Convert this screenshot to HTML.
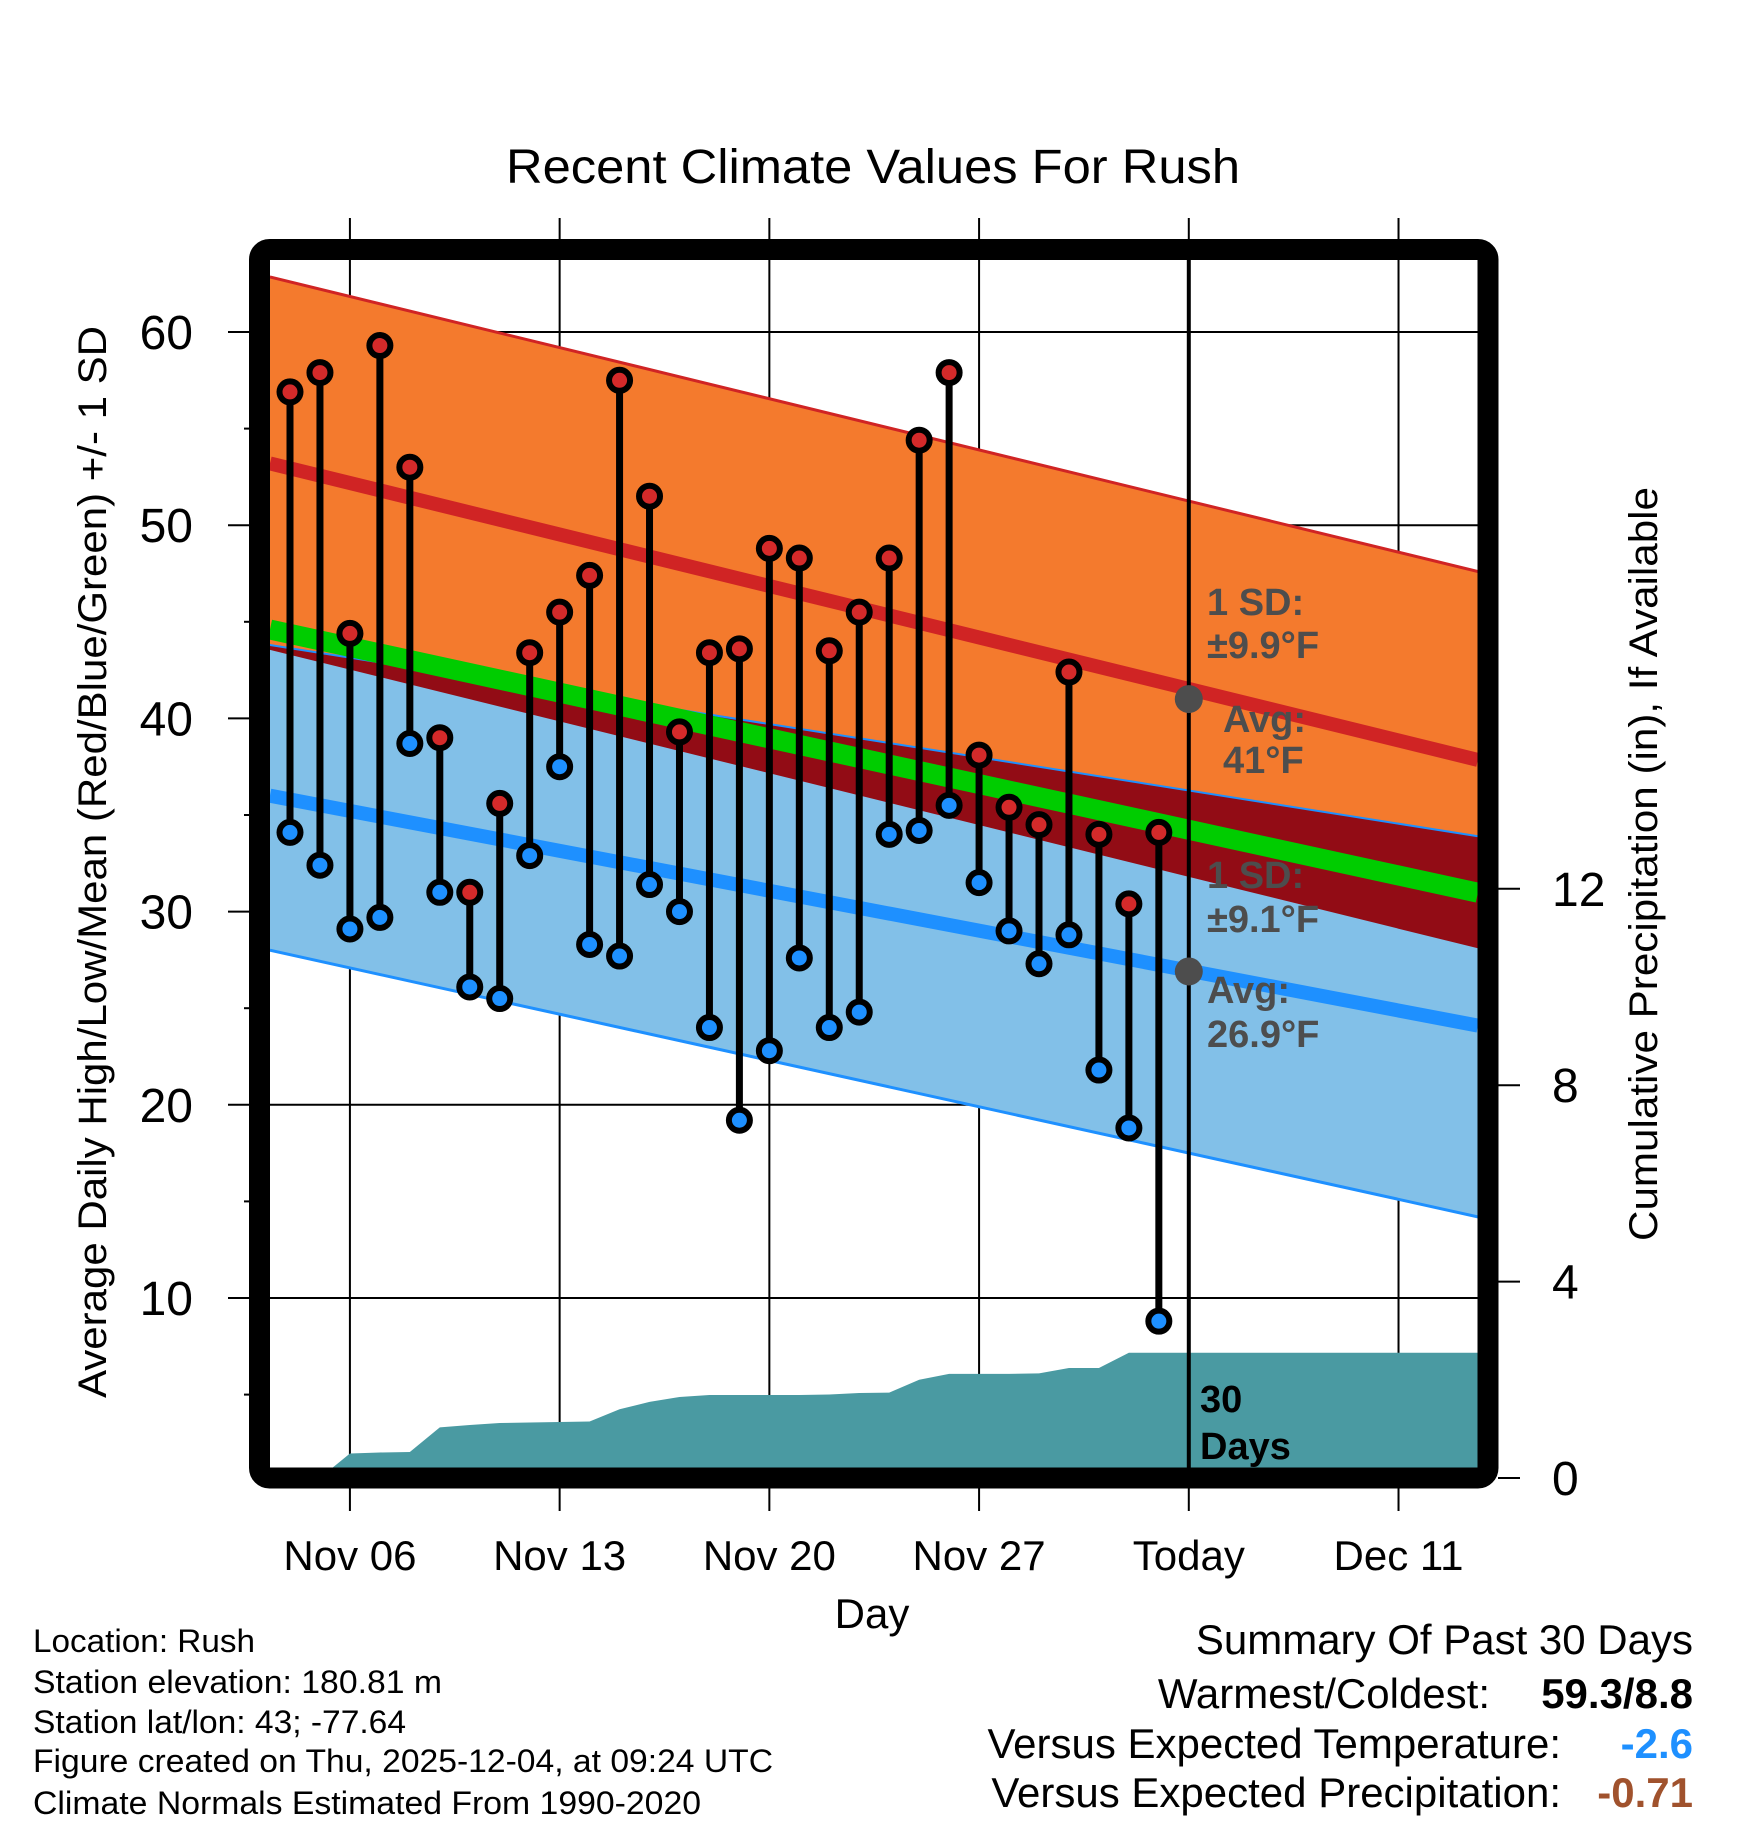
<!DOCTYPE html>
<html><head><meta charset="utf-8"><style>
html,body{margin:0;padding:0;background:#fff}
svg{display:block;font-family:"Liberation Sans",sans-serif}
</style></head><body>
<svg id="chart" width="1748" height="1828" viewBox="0 0 1748 1828" xmlns="http://www.w3.org/2000/svg">
<defs><clipPath id="plotclip"><rect x="270" y="260" width="1208" height="1208"/></clipPath></defs>
<text x="873" y="183" font-size="48" text-anchor="middle" textLength="734" lengthAdjust="spacingAndGlyphs">Recent Climate Values For Rush</text>
<g id="grid"></g>
<g id="plot" clip-path="url(#plotclip)"></g>
<rect x="259.5" y="249.5" width="1228.5" height="1228.5" rx="10" fill="none" stroke="#000" stroke-width="21"/>
<g id="axes"></g>
<text transform="translate(106,862) rotate(-90)" font-size="40" text-anchor="middle" textLength="1072" lengthAdjust="spacingAndGlyphs">Average Daily High/Low/Mean (Red/Blue/Green) +/- 1 SD</text>
<text transform="translate(1657,864) rotate(-90)" font-size="40" text-anchor="middle" textLength="754" lengthAdjust="spacingAndGlyphs">Cumulative Precipitation (in), If Available</text>
<text x="872" y="1628" font-size="42" text-anchor="middle">Day</text>
<g font-size="32">
<text x="33" y="1652" textLength="222" lengthAdjust="spacingAndGlyphs">Location: Rush</text>
<text x="33" y="1693" textLength="409" lengthAdjust="spacingAndGlyphs">Station elevation: 180.81 m</text>
<text x="33" y="1733" textLength="373" lengthAdjust="spacingAndGlyphs">Station lat/lon: 43; -77.64</text>
<text x="33" y="1772" textLength="740" lengthAdjust="spacingAndGlyphs">Figure created on Thu, 2025-12-04, at 09:24 UTC</text>
<text x="33" y="1814" textLength="668" lengthAdjust="spacingAndGlyphs">Climate Normals Estimated From 1990-2020</text>
</g>
<g font-size="42" text-anchor="end">
<text x="1693" y="1654">Summary Of Past 30 Days</text>
<text x="1490" y="1708">Warmest/Coldest:</text>
<text x="1693" y="1708" font-weight="bold">59.3/8.8</text>
<text x="1561" y="1758">Versus Expected Temperature:</text>
<text x="1693" y="1758" font-weight="bold" fill="#1e90ff">-2.6</text>
<text x="1561" y="1807">Versus Expected Precipitation:</text>
<text x="1693" y="1807" font-weight="bold" fill="#a0522d">-0.71</text>
</g>
</svg>
<script>
// ---- data ----
const highs = [56.9,57.9,44.4,59.3,53.0,39.0,31.0,35.6,43.4,45.5,47.4,57.5,51.5,39.3,43.4,43.6,48.8,48.3,43.5,45.5,48.3,54.4,57.9,38.1,35.4,34.5,42.4,34.0,30.4,34.1];
const lows  = [34.1,32.4,29.1,29.7,38.7,31.0,26.1,25.5,32.9,37.5,28.3,27.7,31.4,30.0,24.0,19.2,22.8,27.6,24.0,24.8,34.0,34.2,35.5,31.5,29.0,27.3,28.8,21.8,18.8,8.8];
const precip = [0,0,0.50,0.52,0.53,1.03,1.08,1.12,1.13,1.14,1.15,1.40,1.55,1.65,1.69,1.69,1.69,1.69,1.70,1.73,1.74,2.00,2.12,2.12,2.12,2.13,2.24,2.24,2.55,2.55];
// normals at left edge (day -0.67) and right edge (day 39.65)
const normDays = [-0.67, 39.65];
const highMean = [53.2, 37.85];
const highSD = [9.65, 9.75];
const lowMean = [36.0, 24.1];
const lowSDup = [7.8, 9.8];
const lowSDdn = [8.0, 9.9];
const dateLabels = ["Nov 06","Nov 13","Nov 20","Nov 27","Today","Dec 11"];
const dateDays = [2,9,16,23,30,37];
const yTicks = [10,20,30,40,50,60];
const yMinor = [5,15,25,35,45,55];
const pTicks = [0,4,8,12];
const todayDay = 30;
const todayHighAvg = 41, todayLowAvg = 26.9;

// ---- scales ----
const X = d => 290 + 29.96*d;
const Y = t => 332 + (60 - t)*19.32;
const P = p => 1478 - p*49.1;
const NS = "http://www.w3.org/2000/svg";
function mk(tag, attrs, parent){const e=document.createElementNS(NS,tag);for(const k in attrs)e.setAttribute(k,attrs[k]);parent.appendChild(e);return e;}
const grid=document.getElementById('grid'), plot=document.getElementById('plot'), axes=document.getElementById('axes');
const lerp=(a,t)=>a[0]+(a[1]-a[0])*t;
const tAt = d => (d-normDays[0])/(normDays[1]-normDays[0]);
function lineAt(fn){return [[X(normDays[0]),Y(fn(0))],[X(normDays[1]),Y(fn(1))]];}
const hiUp=t=>lerp(highMean,t)+lerp(highSD,t), hiDn=t=>lerp(highMean,t)-lerp(highSD,t);
const loUp=t=>lerp(lowMean,t)+lerp(lowSDup,t), loDn=t=>lerp(lowMean,t)-lerp(lowSDdn,t);
const mean=t=>(lerp(highMean,t)+lerp(lowMean,t))/2;
function band(fa,fb,fill,name){
  const a=lineAt(fa), b=lineAt(fb);
  const e=mk('polygon',{points:[a[0],a[1],b[1],b[0]].map(p=>p.join(',')).join(' '),fill:fill},plot);
  
  
}
function ln(fn,color,w,name){
  const a=lineAt(fn);
  const e=mk('line',{x1:a[0][0],y1:a[0][1],x2:a[1][0],y2:a[1][1],stroke:color,'stroke-width':w},plot);
  
  
}
band(hiUp,hiDn,'#f47a2d','high-sd-band');
band(loUp,loDn,'#82c0e8','low-sd-band');
band(loUp,hiDn,'#920c15','overlap-band');
ln(hiUp,'#d02424',3,'high-upper-line');
ln(loUp,'#1e90ff',2,'low-upper-line');
ln(loDn,'#1e90ff',3,'low-lower-line');
ln(mean,'#00cc00',20,'mean-line');
ln(t=>lerp(highMean,t),'#d02424',14,'high-mean-line');
ln(t=>lerp(lowMean,t),'#1e90ff',14,'low-mean-line');

// precipitation area
let pts=[[X(0),P(0)]];
precip.forEach((p,i)=>pts.push([X(i),P(p)]));
pts.push([1480,P(precip[precip.length-1])],[1480,1480],[X(-1),1480],[X(-1),P(0)]);
const pa=mk('polygon',{points:pts.map(p=>p.join(',')).join(' '),fill:'#4a9aa2'},plot);



// gridlines
yTicks.forEach(t=>{
  const g=mk('line',{x1:228,x2:1478,y1:Y(t),y2:Y(t),stroke:'#000','stroke-width':2},grid);
  
  
  const l=mk('text',{x:193,y:Y(t)+17,'font-size':48,'text-anchor':'end'},axes);
  l.textContent=t;
  
  
});
yMinor.forEach(t=>{
  const g=mk('line',{x1:244,x2:252,y1:Y(t),y2:Y(t),stroke:'#000','stroke-width':2},grid);
  
  
});
dateDays.forEach((d,i)=>{
  const g=mk('line',{x1:X(d),x2:X(d),y1:218,y2:1511,stroke:'#000','stroke-width':2},grid);
  
  
  const l=mk('text',{x:X(d),y:1570,'font-size':42,'text-anchor':'middle'},axes);
  l.textContent=dateLabels[i];
  
  
});
pTicks.forEach(p=>{
  const g=mk('line',{x1:1498,x2:1520,y1:P(p),y2:P(p),stroke:'#000','stroke-width':2},axes);
  
  
  const l=mk('text',{x:1552,y:P(p)+17,'font-size':48},axes);
  l.textContent=p;
  
  
});

// today line & avg dots
const tl=mk('line',{x1:X(todayDay),x2:X(todayDay),y1:260,y2:1468,stroke:'#000','stroke-width':4},plot);


[todayHighAvg,todayLowAvg].forEach(v=>{
  const c=mk('circle',{cx:X(todayDay),cy:Y(v),r:14,fill:'#4d4d4d'},plot);
  
  
});

// daily stems and markers
highs.forEach((h,i)=>{
  const s=mk('line',{x1:X(i),x2:X(i),y1:Y(h),y2:Y(lows[i]),stroke:'#000','stroke-width':7},plot);
  
  
});
highs.forEach((h,i)=>{
  const a=mk('circle',{cx:X(i),cy:Y(h),r:10.5,fill:'#d42a2a',stroke:'#000','stroke-width':6},plot);
  
  
  const b=mk('circle',{cx:X(i),cy:Y(lows[i]),r:10.5,fill:'#1e90ff',stroke:'#000','stroke-width':6},plot);
  
  
});

// annotations
const ann=[["1 SD:",1207,615,'#4d4d4d'],["\u00b19.9\u00b0F",1207,658,'#4d4d4d'],["Avg:",1223,732,'#4d4d4d'],["41\u00b0F",1223,773,'#4d4d4d'],
["1 SD:",1207,888,'#4d4d4d'],["\u00b19.1\u00b0F",1207,932,'#4d4d4d'],["Avg:",1207,1003,'#4d4d4d'],["26.9\u00b0F",1207,1047,'#4d4d4d'],
["30",1200,1412,'#000'],["Days",1200,1459,'#000']];
ann.forEach(a=>{
  const t=mk('text',{x:a[1],y:a[2],'font-size':38,'font-weight':'bold',fill:a[3]},plot);
  t.textContent=a[0];
  
  
});
</script>
</body></html>
